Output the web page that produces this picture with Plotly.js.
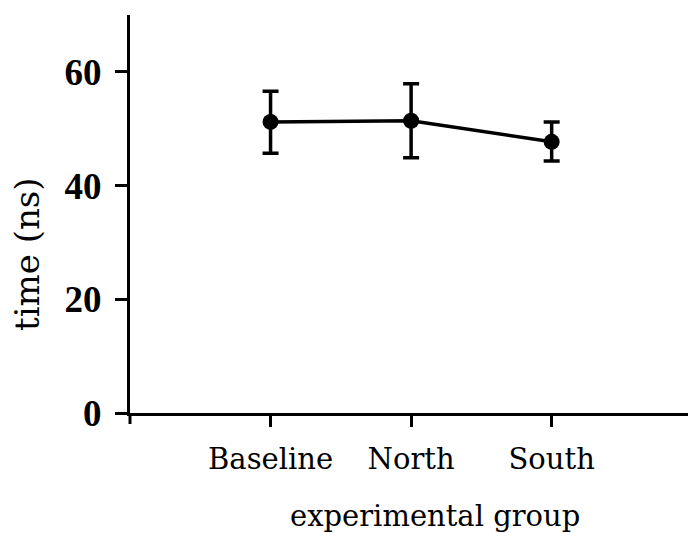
<!DOCTYPE html>
<html>
<head>
<meta charset="utf-8">
<script src="https://cdn.plot.ly/plotly-3.0.1.min.js"></script>
<style>html,body{margin:0;padding:0;background:#fff}#chart{width:688px;height:533px}</style>
</head>
<body>
<div id="chart"></div>
<script>
const groups = ["Baseline", "North", "South"];
const meanTime = [51.2, 51.4, 47.7];
const upperBound = [56.6, 57.9, 51.2];
const lowerBound = [45.7, 44.9, 44.3];
const yTicks = [0, 20, 40, 60];

const errPlus = meanTime.map((m, i) => upperBound[i] - m);
const errMinus = meanTime.map((m, i) => m - lowerBound[i]);

const font = "DejaVu Serif, Liberation Serif, serif";
const numFont = "Liberation Serif, DejaVu Serif, serif";

const traces = [
  {
    x: groups, y: meanTime,
    type: "scatter", mode: "lines+markers",
    line: {color: "#000", width: 3.5},
    marker: {color: "#000", size: 16},
    error_y: {type: "data", symmetric: false, array: errPlus, arrayminus: errMinus,
              color: "#000", thickness: 3.5, width: 8},
    hoverinfo: "x+y", showlegend: false
  }
];

const layout = {
  width: 688, height: 533,
  margin: {l: 130, r: 0, t: 15, b: 120},
  paper_bgcolor: "#fff", plot_bgcolor: "#fff",
  showlegend: false,
  font: {family: font, color: "#000"},
  xaxis: {
    type: "category", categoryorder: "array", categoryarray: groups,
    range: [-1.0, 2.97],
    showgrid: false, zeroline: false,
    showline: true, linecolor: "#000", linewidth: 3,
    ticks: "outside", ticklen: 11, tickwidth: 2.5, tickcolor: "#000",
    tickfont: {family: font, size: 29, color: "#000"},
    ticklabelstandoff: 7,
    fixedrange: true
  },
  yaxis: {
    range: [0, 70], tickmode: "array", tickvals: yTicks,
    showgrid: false, zeroline: false,
    showline: true, linecolor: "#000", linewidth: 3,
    ticks: "outside", ticklen: 12, tickwidth: 2.5, tickcolor: "#000",
    tickfont: {family: numFont, size: 37, color: "#000", weight: "bold"},
    ticklabelstandoff: 6,
    fixedrange: true
  },
  shapes: [
    {type: "line", xref: "paper", yref: "paper", x0: 0, x1: 0, y0: 0, y1: -11/398,
     line: {color: "#000", width: 3}}
  ],
  annotations: [
    {text: "time (ns)", xref: "paper", yref: "paper", x: -103/558, y: (413-254)/398,
     textangle: -90, showarrow: false, xanchor: "center", yanchor: "middle",
     font: {family: font, size: 34, color: "#000"}},
    {text: "experimental group", xref: "paper", yref: "paper", x: (435-130)/558, y: -(516-413)/398,
     showarrow: false, xanchor: "center", yanchor: "middle",
     font: {family: font, size: 29, color: "#000"}}
  ]
};

Plotly.newPlot("chart", traces, layout, {displayModeBar: false});
</script>
</body>
</html>
